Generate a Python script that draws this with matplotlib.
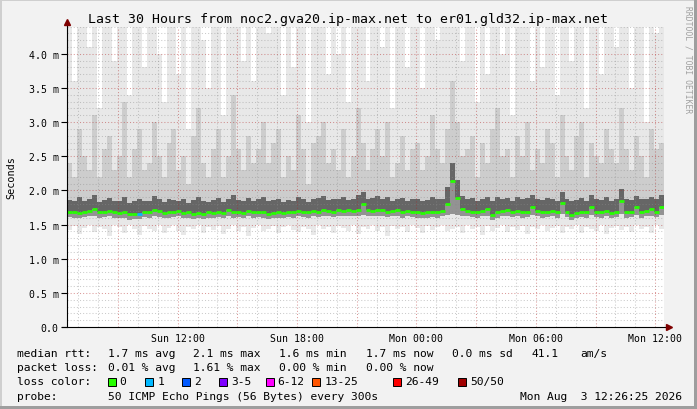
import numpy as np
import matplotlib
matplotlib.use("Agg")
import matplotlib.pyplot as plt
import matplotlib.dates as mdates
import matplotlib.ticker as mticker
from matplotlib.patches import Rectangle

W, H = 697, 410

# one value every 15 minutes over the last 30 hours (ms)
median_rtt = [
    1.68, 1.69, 1.67, 1.68, 1.70, 1.73, 1.69, 1.68, 1.70, 1.69,
    1.67, 1.68, 1.65, 1.65, 1.66, 1.69, 1.68, 1.72, 1.70, 1.67,
    1.69, 1.68, 1.70, 1.67, 1.68, 1.66, 1.67, 1.66, 1.68, 1.67,
    1.69, 1.67, 1.71, 1.68, 1.69, 1.67, 1.70, 1.68, 1.69, 1.68,
    1.66, 1.67, 1.68, 1.67, 1.69, 1.68, 1.70, 1.69, 1.68, 1.70,
    1.69, 1.71, 1.70, 1.69, 1.71, 1.70, 1.72, 1.70, 1.71, 1.80,
    1.71, 1.70, 1.72, 1.71, 1.69, 1.70, 1.71, 1.68, 1.70, 1.69,
    1.68, 1.67, 1.68, 1.69, 1.68, 1.70, 1.80, 2.14, 1.89, 1.73,
    1.70, 1.69, 1.68, 1.70, 1.73, 1.64, 1.68, 1.70, 1.71, 1.69,
    1.70, 1.68, 1.69, 1.75, 1.70, 1.68, 1.69, 1.70, 1.68, 1.81,
    1.69, 1.64, 1.67, 1.69, 1.68, 1.76, 1.69, 1.68, 1.70, 1.67,
    1.69, 1.85, 1.68, 1.69, 1.75, 1.68, 1.70, 1.73, 1.69, 1.76,
]
loss_pings = [0] * 14 + [1] + [0] * 105

# smoke: spread of the 50 pings per step
ping_min = [
    1.42, 1.48, 1.36, 1.45, 1.50, 1.39, 1.47, 1.44, 1.33, 1.49,
    1.46, 1.38, 1.50, 1.43, 1.35, 1.48, 1.44, 1.40, 1.49, 1.37,
    1.45, 1.50, 1.41, 1.34, 1.47, 1.43, 1.49, 1.38, 1.46, 1.42,
    1.48, 1.36, 1.44, 1.50, 1.40, 1.47, 1.33, 1.45, 1.49, 1.41,
    1.44, 1.48, 1.37, 1.46, 1.50, 1.42, 1.39, 1.47, 1.44, 1.35,
    1.49, 1.43, 1.46, 1.38, 1.48, 1.45, 1.41, 1.50, 1.36, 1.47,
    1.44, 1.49, 1.40, 1.46, 1.33, 1.48, 1.43, 1.47, 1.39, 1.50,
    1.45, 1.37, 1.48, 1.42, 1.46, 1.50, 1.40, 1.44, 1.47, 1.38,
    1.49, 1.43, 1.46, 1.35, 1.48, 1.41, 1.45, 1.50, 1.39, 1.46,
    1.42, 1.48, 1.36, 1.47, 1.44, 1.50, 1.40, 1.45, 1.48, 1.37,
    1.46, 1.43, 1.49, 1.38, 1.47, 1.44, 1.41, 1.50, 1.36, 1.45,
    1.48, 1.42, 1.46, 1.39, 1.50, 1.44, 1.47, 1.37, 1.49, 1.43,
]
ping_q1 = [
    1.61, 1.60, 1.59, 1.61, 1.62, 1.63, 1.60, 1.61, 1.62, 1.60,
    1.59, 1.60, 1.57, 1.58, 1.58, 1.61, 1.60, 1.62, 1.61, 1.59,
    1.60, 1.61, 1.62, 1.59, 1.60, 1.58, 1.59, 1.58, 1.60, 1.59,
    1.61, 1.59, 1.62, 1.60, 1.61, 1.59, 1.62, 1.60, 1.61, 1.60,
    1.58, 1.59, 1.60, 1.59, 1.61, 1.60, 1.62, 1.61, 1.60, 1.62,
    1.61, 1.63, 1.62, 1.61, 1.63, 1.62, 1.63, 1.62, 1.63, 1.64,
    1.63, 1.62, 1.63, 1.63, 1.61, 1.62, 1.63, 1.60, 1.62, 1.61,
    1.60, 1.59, 1.60, 1.61, 1.60, 1.62, 1.64, 1.66, 1.64, 1.63,
    1.62, 1.61, 1.60, 1.62, 1.63, 1.57, 1.60, 1.62, 1.63, 1.61,
    1.62, 1.60, 1.61, 1.64, 1.62, 1.60, 1.61, 1.62, 1.60, 1.65,
    1.61, 1.57, 1.59, 1.61, 1.60, 1.64, 1.61, 1.60, 1.62, 1.59,
    1.61, 1.66, 1.60, 1.61, 1.64, 1.60, 1.62, 1.63, 1.61, 1.64,
]
ping_q3 = [
    1.86, 1.84, 1.90, 1.85, 1.87, 1.93, 1.83, 1.86, 1.89, 1.84,
    1.85, 1.91, 1.82, 1.84, 1.88, 1.85, 1.84, 1.92, 1.87, 1.83,
    1.88, 1.86, 1.84, 1.87, 1.82, 1.86, 1.90, 1.84, 1.83, 1.86,
    1.89, 1.83, 1.88, 1.94, 1.86, 1.84, 1.89, 1.85, 1.87, 1.90,
    1.84, 1.86, 1.88, 1.83, 1.86, 1.85, 1.91, 1.87, 1.83, 1.88,
    1.89, 1.92, 1.86, 1.88, 1.87, 1.91, 1.86, 1.88, 1.93, 1.98,
    1.87, 1.89, 1.92, 1.88, 1.90, 1.85, 1.87, 1.89, 1.85, 1.87,
    1.88, 1.84, 1.86, 1.90, 1.87, 1.88, 2.05, 2.40, 2.15, 1.92,
    1.88, 1.89, 1.84, 1.88, 1.91, 1.85, 1.90, 1.87, 1.89, 1.84,
    1.90, 1.87, 1.89, 1.93, 1.88, 1.86, 1.89, 1.88, 1.85, 1.97,
    1.87, 1.84, 1.86, 1.89, 1.85, 1.93, 1.87, 1.86, 1.90, 1.85,
    1.87, 2.02, 1.88, 1.86, 1.92, 1.87, 1.88, 1.91, 1.87, 1.93,
]
ping_p90 = [
    2.4, 2.2, 2.9, 2.5, 2.3, 3.1, 2.2, 2.6, 2.8, 2.3,
    2.5, 3.3, 2.2, 2.6, 2.9, 2.3, 2.4, 3.0, 2.5, 2.2,
    2.7, 2.9, 2.3, 2.5, 2.1, 2.8, 3.2, 2.4, 2.2, 2.6,
    2.9, 2.2, 2.5, 3.4, 2.6, 2.3, 2.8, 2.4, 2.6, 3.0,
    2.4, 2.7, 2.9, 2.2, 2.5, 2.3, 3.1, 2.6, 2.1, 2.7,
    2.8, 3.0, 2.4, 2.6, 2.3, 2.9, 2.2, 2.5, 3.2, 2.7,
    2.3, 2.6, 2.9, 2.5, 3.0, 2.2, 2.4, 2.8, 2.3, 2.6,
    2.7, 2.3, 2.5, 3.1, 2.6, 2.4, 2.9, 3.6, 3.0, 2.5,
    2.6, 2.8, 2.2, 2.7, 2.4, 2.9, 3.2, 2.5, 2.6, 2.2,
    2.8, 2.5, 3.0, 2.3, 2.6, 2.4, 2.9, 2.7, 2.2, 3.1,
    2.5, 2.3, 2.8, 3.0, 2.2, 2.7, 2.5, 2.4, 2.9, 2.6,
    2.4, 3.2, 2.6, 2.3, 2.8, 2.5, 2.2, 2.9, 2.6, 2.7,
]
ping_max = [
    4.8, 3.6, 4.8, 4.8, 4.1, 4.8, 3.2, 4.8, 4.8, 3.9,
    4.8, 4.8, 3.4, 4.8, 4.6, 3.8, 4.8, 4.8, 4.0, 3.3,
    4.8, 4.8, 3.7, 4.8, 2.9, 4.8, 4.8, 4.2, 3.5, 4.8,
    4.8, 3.1, 4.8, 4.8, 4.8, 3.9, 4.8, 3.6, 4.8, 4.8,
    4.3, 4.8, 4.8, 3.4, 4.8, 3.8, 4.8, 4.8, 3.0, 4.8,
    4.8, 4.8, 3.7, 4.8, 4.0, 4.8, 3.3, 4.8, 4.8, 4.8,
    3.6, 4.8, 4.8, 4.1, 4.8, 3.2, 4.8, 4.8, 3.8, 4.8,
    4.8, 3.5, 4.8, 4.8, 4.2, 4.8, 4.8, 4.8, 4.8, 3.9,
    4.8, 4.8, 3.3, 4.8, 3.7, 4.8, 4.8, 4.0, 4.8, 3.1,
    4.8, 4.8, 4.8, 3.6, 4.8, 3.8, 4.8, 4.8, 3.4, 4.8,
    4.8, 3.9, 4.8, 4.8, 3.2, 4.8, 4.8, 3.7, 4.8, 4.8,
    4.1, 4.8, 4.8, 3.5, 4.8, 4.8, 3.0, 4.8, 4.3, 4.8,
]

loss_colors = ["#26ff00", "#00b8ff", "#0059ff", "#7e00ff",
               "#ff00ff", "#ff5500", "#ff0000", "#a10000"]
loss_labels = ["0", "1", "2", "3-5", "6-12", "13-25", "26-49", "50/50"]

title = "Last 30 Hours from noc2.gva20.ip-max.net to er01.gld32.ip-max.net"
start = np.datetime64("2026-08-02T06:26:25")
end = np.datetime64("2026-08-03T12:26:25")

plt.rcParams["font.family"] = ["DejaVu Sans Mono"]


def ext(a):
    return np.append(a, a[-1])


def px(x, y):
    return x / W, 1 - y / H


n = len(median_rtt)
t = start + np.arange(n + 1) * np.timedelta64(15, "m")

fig = plt.figure(figsize=(W / 100, H / 100), dpi=100, facecolor="#f2f2f2")
ax = fig.add_axes([67 / W, 82 / H, 597 / W, 300.5 / H])
ax.set_facecolor("white")

# smoke, lightest outer layer first
ax.fill_between(t, ext(ping_min), ext(ping_max), step="post", color="#e8e8e8", lw=0)
ax.fill_between(t, ext(ping_q1), ext(ping_p90), step="post", color="#cdcdcd", lw=0)
ax.fill_between(t, ext(ping_q1), ext(ping_q3), step="post", color="#939393", lw=0)
ax.fill_between(t, ext(median_rtt), ext(ping_q3), step="post", color="#666666", lw=0)

# median coloured by loss
med_colors = [loss_colors[l] for l in loss_pings]
ax.hlines(median_rtt, t[:-1], t[1:], colors=med_colors, lw=2.0, zorder=3)

ax.set_xlim(start, end)
ax.set_ylim(0, 4.4)

ax.xaxis.set_major_locator(mdates.HourLocator(byhour=range(0, 24, 3)))
ax.xaxis.set_minor_locator(mdates.HourLocator())
ax.xaxis.set_major_formatter(mticker.FuncFormatter(
    lambda v, p: mdates.num2date(v).strftime("%a %H:%M")
    if mdates.num2date(v).hour % 6 == 0 else ""))
ax.yaxis.set_major_locator(mticker.MultipleLocator(0.5))
ax.yaxis.set_minor_locator(mticker.MultipleLocator(0.1))
ax.yaxis.set_major_formatter(mticker.FuncFormatter(
    lambda v, p: "0.0" if abs(v) < 1e-9 else f"{v:.1f} m"))

ax.set_axisbelow(False)
ax.grid(which="minor", color="#8c8c8c", alpha=0.45, lw=0.75, ls=(0, (1, 2)))
ax.grid(which="major", color="#b02020", alpha=0.45, lw=0.75, ls=(0, (1, 2)))

ax.tick_params(axis="x", which="both", length=0, pad=4, labelsize=7.1)
ax.tick_params(axis="y", which="major", length=4, width=0.8, pad=2, labelsize=7.1)
ax.tick_params(axis="y", which="minor", length=0)

for s in ax.spines.values():
    s.set_visible(False)
ax.plot([0, 0], [0, 1.012], transform=ax.transAxes, color="black", lw=0.8,
        clip_on=False, zorder=4)
ax.plot([-0.008, 1.007], [0, 0], transform=ax.transAxes, color="black", lw=0.8,
        clip_on=False, zorder=4)
ax.plot([0], [1.014], marker="^", ms=4, color="#7f0000", transform=ax.transAxes,
        clip_on=False, zorder=5)
ax.plot([1.009], [0], marker=">", ms=4, color="#7f0000", transform=ax.transAxes,
        clip_on=False, zorder=5)

fig.text(*px(11, 178), "Seconds", rotation=90, ha="center", va="center", fontsize=7.3)

fig.text(*px(348, 20), title, ha="center", va="center", fontsize=9.5)
fig.text(*px(688, 60), "RRDTOOL / TOBI OETIKER", ha="center", va="center",
         rotation=270, fontsize=5.8, color="#a0a0a0")

fs = 8.1
rows = [
    (354, [(16.7, "median rtt:"), (107.7, "1.7 ms avg"), (193.3, "2.1 ms max"),
           (279.3, "1.6 ms min"), (365.7, "1.7 ms now"), (451.7, "0.0 ms sd"),
           (531.7, "41.1"), (580, "am/s")]),
    (368.5, [(16.7, "packet loss:"), (107.7, "0.01 % avg"), (193.3, "1.61 % max"),
             (279.3, "0.00 % min"), (365.7, "0.00 % now")]),
    (382.5, [(16.7, "loss color:")]),
    (397, [(16.7, "probe:"), (107.7, "50 ICMP Echo Pings (56 Bytes) every 300s")]),
]
for y, items in rows:
    for x, s in items:
        fig.text(*px(x, y), s, ha="left", va="center", fontsize=fs)
fig.text(*px(682, 397), "Mon Aug  3 12:26:25 2026", ha="right", va="center", fontsize=fs)

box_x = [107.7, 145.3, 182.3, 219, 265.7, 312.3, 393.3, 458.3]
for bx, c, lab in zip(box_x, loss_colors, loss_labels):
    fig.patches.append(Rectangle(px(bx, 386.5), 8 / W, 8 / H, transform=fig.transFigure,
                                 facecolor=c, edgecolor="black", lw=0.7))
    fig.text(*px(bx + 12, 382.5), lab, ha="left", va="center", fontsize=fs)

# frame shading
fig.patches.append(Rectangle((0, 1 - 2 / H), 1, 2 / H, transform=fig.transFigure,
                             facecolor="#cfcfcf", lw=0))
fig.patches.append(Rectangle((0, 0), 2 / W, 1, transform=fig.transFigure,
                             facecolor="#cfcfcf", lw=0))
fig.patches.append(Rectangle((0, 0), 1, 3 / H, transform=fig.transFigure,
                             facecolor="#9e9e9e", lw=0))
fig.patches.append(Rectangle((1 - 3 / W, 0), 3 / W, 1, transform=fig.transFigure,
                             facecolor="#9e9e9e", lw=0))

fig.savefig("out.png", dpi=100, facecolor=fig.get_facecolor())
